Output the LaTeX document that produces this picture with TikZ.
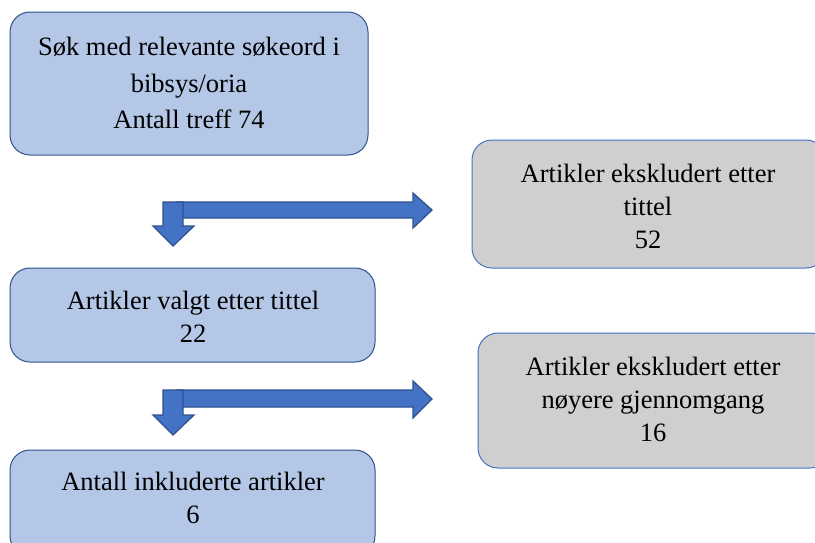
\documentclass[tikz,border=0pt]{standalone}
\usepackage{fontspec}
\setmainfont{Liberation Serif}
\definecolor{boxblue}{HTML}{B4C7E7}
\definecolor{boxgrey}{HTML}{D0CECE}
\definecolor{edgeblue}{HTML}{2F528F}
\definecolor{midblue}{HTML}{4472C4}
\begin{document}
\begin{tikzpicture}[x=1pt,y=-1pt,
  bluebox/.style={draw=edgeblue, fill=boxblue, line width=1pt, rounded corners=20pt},
  greybox/.style={draw=midblue, fill=boxgrey, line width=1pt, rounded corners=20pt},
  txt/.style={align=center, font=\fontsize{26.5}{33}\selectfont, inner sep=0pt},
  blockarrow/.style={draw=edgeblue, fill=midblue, line width=1.3pt, line join=miter}]
\useasboundingbox (0,0) rectangle (815,542);
\begin{scope}
\clip (0,0) rectangle (815,542);
% boxes
\draw[bluebox] (10,12) rectangle (368,155);
\node[txt, font=\fontsize{26.5}{36.5}\selectfont] (search) at (189,83) {Søk med relevante søkeord i\\bibsys/oria\\Antall treff 74};
\draw[greybox] (472,140) rectangle (826,268);
\node[txt] (excl1) at (648,206) {Artikler ekskludert etter\\tittel\\52};
\draw[bluebox] (10,268) rectangle (375,362);
\node[txt] (chosen) at (193,317) {Artikler valgt etter tittel\\22};
\draw[greybox] (478,333) rectangle (830,468);
\node[txt] (excl2) at (653,399) {Artikler ekskludert etter\\nøyere gjennomgang\\16};
\draw[bluebox] (10,450) rectangle (375,556);
\node[txt] (incl) at (193,498) {Antall inkluderte artikler\\6};
% arrows 1
\draw[blockarrow] (176,202) -- (413,202) -- (413,193) -- (432,210) -- (413,228) -- (413,218) -- (176,218) -- cycle;
\draw[blockarrow] (163,202) -- (183,202) -- (183,226) -- (194,226) -- (173,246) -- (153,226) -- (163,226) -- cycle;
% arrows 2
\draw[blockarrow] (176,390) -- (413,390) -- (413,381) -- (432,399) -- (413,418) -- (413,407) -- (176,407) -- cycle;
\draw[blockarrow] (163,390) -- (183,390) -- (183,415) -- (194,415) -- (173,435) -- (153,415) -- (163,415) -- cycle;
\end{scope}
\end{tikzpicture}
\end{document}
